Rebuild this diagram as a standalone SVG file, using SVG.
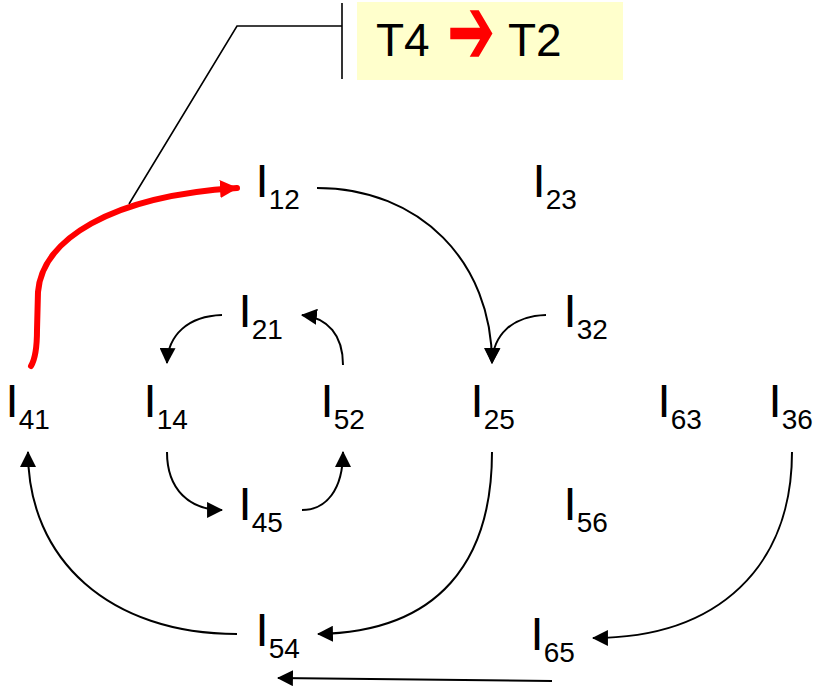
<svg xmlns="http://www.w3.org/2000/svg" width="817" height="692" viewBox="0 0 817 692">
<style>
.n{font-family:"Liberation Sans",Arial,sans-serif;font-size:47px;fill:#000}
.s{font-size:28px}
.c{fill:none;stroke:#000;stroke-width:2;marker-end:url(#ah)}
.t{font-family:"Liberation Sans",Arial,sans-serif;font-size:46px;fill:#000}
</style>
<defs>
<marker id="ah" markerUnits="userSpaceOnUse" markerWidth="16" markerHeight="16" viewBox="0 0 15 15" refX="14" refY="7.5" orient="auto"><path d="M0,0 L15,7.5 L0,15 z" fill="#000"/></marker>
<marker id="ahr" markerUnits="userSpaceOnUse" markerWidth="18" markerHeight="18" viewBox="0 0 18 18" refX="17" refY="9" orient="auto"><path d="M0,0 L18,9 L0,18 z" fill="#f00"/></marker>
</defs>
<g id="callout">
<rect x="357" y="2" width="266" height="78" fill="#FFFFCC"/>
<text class="t" y="56"><tspan x="376">T4</tspan></text>
<text transform="translate(447,64) scale(0.72,1.22)" x="0" y="0" fill="#f00" font-family="DejaVu Sans, sans-serif" font-size="80">➔</text>
<text class="t" y="56"><tspan x="508">T2</tspan></text>
<polyline points="129,204 237,26 342,26" fill="none" stroke="#000" stroke-width="1.6"/>
<line x1="342" y1="3" x2="342" y2="79" stroke="#000" stroke-width="1.6"/>
</g>
<g id="connectors">
<path d="M31 366 Q37 356 37 330 L38 292 C42 240 110 196 237 188" fill="none" stroke="#f00" stroke-width="6" stroke-linecap="round" marker-end="url(#ahr)"/>
<path class="c" d="M317 188 C420 188 492 262 492 363"/>
<path class="c" d="M546 315 C512 316 493 335 492 363"/>
<path class="c" d="M222 315 C188 316 168 335 167 363"/>
<path class="c" d="M343 365 C343 335 328 318 302 315"/>
<path class="c" d="M167 452 C167 490 190 510 222 510"/>
<path class="c" d="M302 510 C326 510 343 490 343 452"/>
<path class="c" d="M492 452 C492 560 440 632 318 634"/>
<path class="c" d="M237 634 C110 634 28 560 28 452"/>
<path class="c" d="M792 452 C792 565 720 638 593 638"/>
<path class="c" d="M552 681 L278 678"/>
</g>
<g id="I12"><text class="n" x="255.6" y="197">I<tspan class="s" dy="12">12</tspan></text></g>
<g id="I23"><text class="n" x="532.6" y="197">I<tspan class="s" dy="12">23</tspan></text></g>
<g id="I21"><text class="n" x="238.6" y="327">I<tspan class="s" dy="12">21</tspan></text></g>
<g id="I32"><text class="n" x="563.6" y="327">I<tspan class="s" dy="12">32</tspan></text></g>
<g id="I41"><text class="n" x="5.6" y="417">I<tspan class="s" dy="12">41</tspan></text></g>
<g id="I14"><text class="n" x="143.6" y="417">I<tspan class="s" dy="12">14</tspan></text></g>
<g id="I52"><text class="n" x="320.6" y="417">I<tspan class="s" dy="12">52</tspan></text></g>
<g id="I25"><text class="n" x="470.6" y="417">I<tspan class="s" dy="12">25</tspan></text></g>
<g id="I63"><text class="n" x="657.6" y="417">I<tspan class="s" dy="12">63</tspan></text></g>
<g id="I36"><text class="n" x="768.6" y="417">I<tspan class="s" dy="12">36</tspan></text></g>
<g id="I45"><text class="n" x="238.6" y="520">I<tspan class="s" dy="12">45</tspan></text></g>
<g id="I56"><text class="n" x="563.6" y="520">I<tspan class="s" dy="12">56</tspan></text></g>
<g id="I54"><text class="n" x="255.6" y="646">I<tspan class="s" dy="12">54</tspan></text></g>
<g id="I65"><text class="n" x="530.6" y="650">I<tspan class="s" dy="12">65</tspan></text></g>
</svg>
